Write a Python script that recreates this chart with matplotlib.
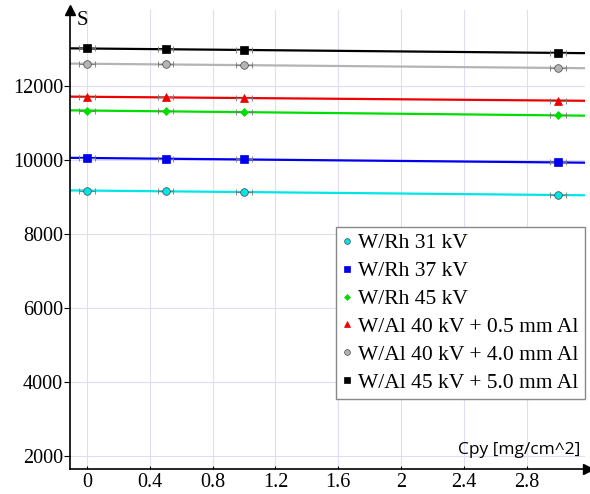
import numpy as np
import matplotlib.pyplot as plt

plt.rcParams['font.family'] = 'Liberation Serif'

# Cpy values where the measurements were taken
cpy = [0.0, 0.5, 1.0, 3.0]

labels = ['W/Rh 31 kV', 'W/Rh 37 kV', 'W/Rh 45 kV',
          'W/Al 40 kV + 0.5 mm Al', 'W/Al 40 kV + 4.0 mm Al',
          'W/Al 45 kV + 5.0 mm Al']
s_rh31 = [9170, 9150, 9130, 9050]
s_rh37 = [10050, 10030, 10010, 9930]
s_rh45 = [11330, 11310, 11290, 11200]
s_al40_05 = [11700, 11690, 11670, 11600]
s_al40_40 = [12590, 12580, 12560, 12480]
s_al45_50 = [13010, 12990, 12960, 12890]
series = [s_rh31, s_rh37, s_rh45, s_al40_05, s_al40_40, s_al45_50]

colors = ['#00e5e5', '#0000ee', '#00dd00', '#ee0000', '#b4b4b4', '#000000']
markers = ['o', 's', 'D', '^', 'o', 's']
msizes = [5.5, 5.5, 4, 5.5, 5.5, 5.5]

xticks = [0, 0.4, 0.8, 1.2, 1.6, 2, 2.4, 2.8]
yticks = [2000, 4000, 6000, 8000, 10000, 12000]

fig = plt.figure(figsize=(5.9, 4.94), dpi=100)
ax = fig.add_axes([0.1186, 0.0506, 0.873, 0.9294])
xmin, xmax = -0.108, 3.17
ymin, ymax = 1650, 14050

xx = np.array([xmin, xmax])
for y, c, m, ms, lab in zip(series, colors, markers, msizes, labels):
    k, b = np.polyfit(cpy, y, 1)
    ax.plot(xx, k * xx + b, color=c, lw=1.6, zorder=2)
    ax.errorbar(cpy, y, xerr=0.05, fmt='none', ecolor='#777777',
                elinewidth=0.6, capsize=2.5, capthick=0.6, zorder=3)
    mec = '#444444' if c in ('#00e5e5', '#b4b4b4') else c
    ax.plot(cpy, y, ls='none', marker=m, ms=ms, color=c, mec=mec,
            mew=0.5, zorder=4, label=lab)

ax.set_xlim(xmin, xmax)
ax.set_ylim(ymin, ymax)
ax.set_xticks(xticks)
ax.set_xticklabels([str(t) for t in xticks], fontsize=14.5)
ax.set_yticks(yticks)
ax.set_yticklabels([str(t) for t in yticks], fontsize=14.5)
ax.grid(True, color='#dedef7', lw=0.8)
ax.set_axisbelow(True)

for side in ('top', 'right'):
    ax.spines[side].set_visible(False)
for side in ('left', 'bottom'):
    ax.spines[side].set_linewidth(1.2)
ax.tick_params(axis='y', length=4, width=0.8, direction='out', pad=1)
ax.tick_params(axis='x', length=2, width=0.8, direction='in', pad=3)

# axis arrows
ax.plot(1.005, 0, '>k', ms=7, transform=ax.transAxes, clip_on=False)
ax.plot(0, 1, '^k', ms=7, transform=ax.transAxes, clip_on=False)

ax.text(0.013, 0.997, 'S', transform=ax.transAxes, ha='left', va='top',
        fontsize=15)
ax.text(0.99, 0.025, 'Cpy [mg/cm^2]', transform=ax.transAxes, ha='right',
        va='bottom', fontsize=12.5, family='Open Sans')

leg = ax.legend(loc='lower right', bbox_to_anchor=(1.0, 0.1525),
                prop={'size': 15.5},
                frameon=True, fancybox=False, edgecolor='#888888',
                framealpha=1, markerscale=0.75,
                handlelength=0.4, handletextpad=0.33, borderpad=0.3,
                labelspacing=0.36, borderaxespad=0)
leg.get_frame().set_linewidth(1.0)

fig.savefig('out.png', dpi=100)
